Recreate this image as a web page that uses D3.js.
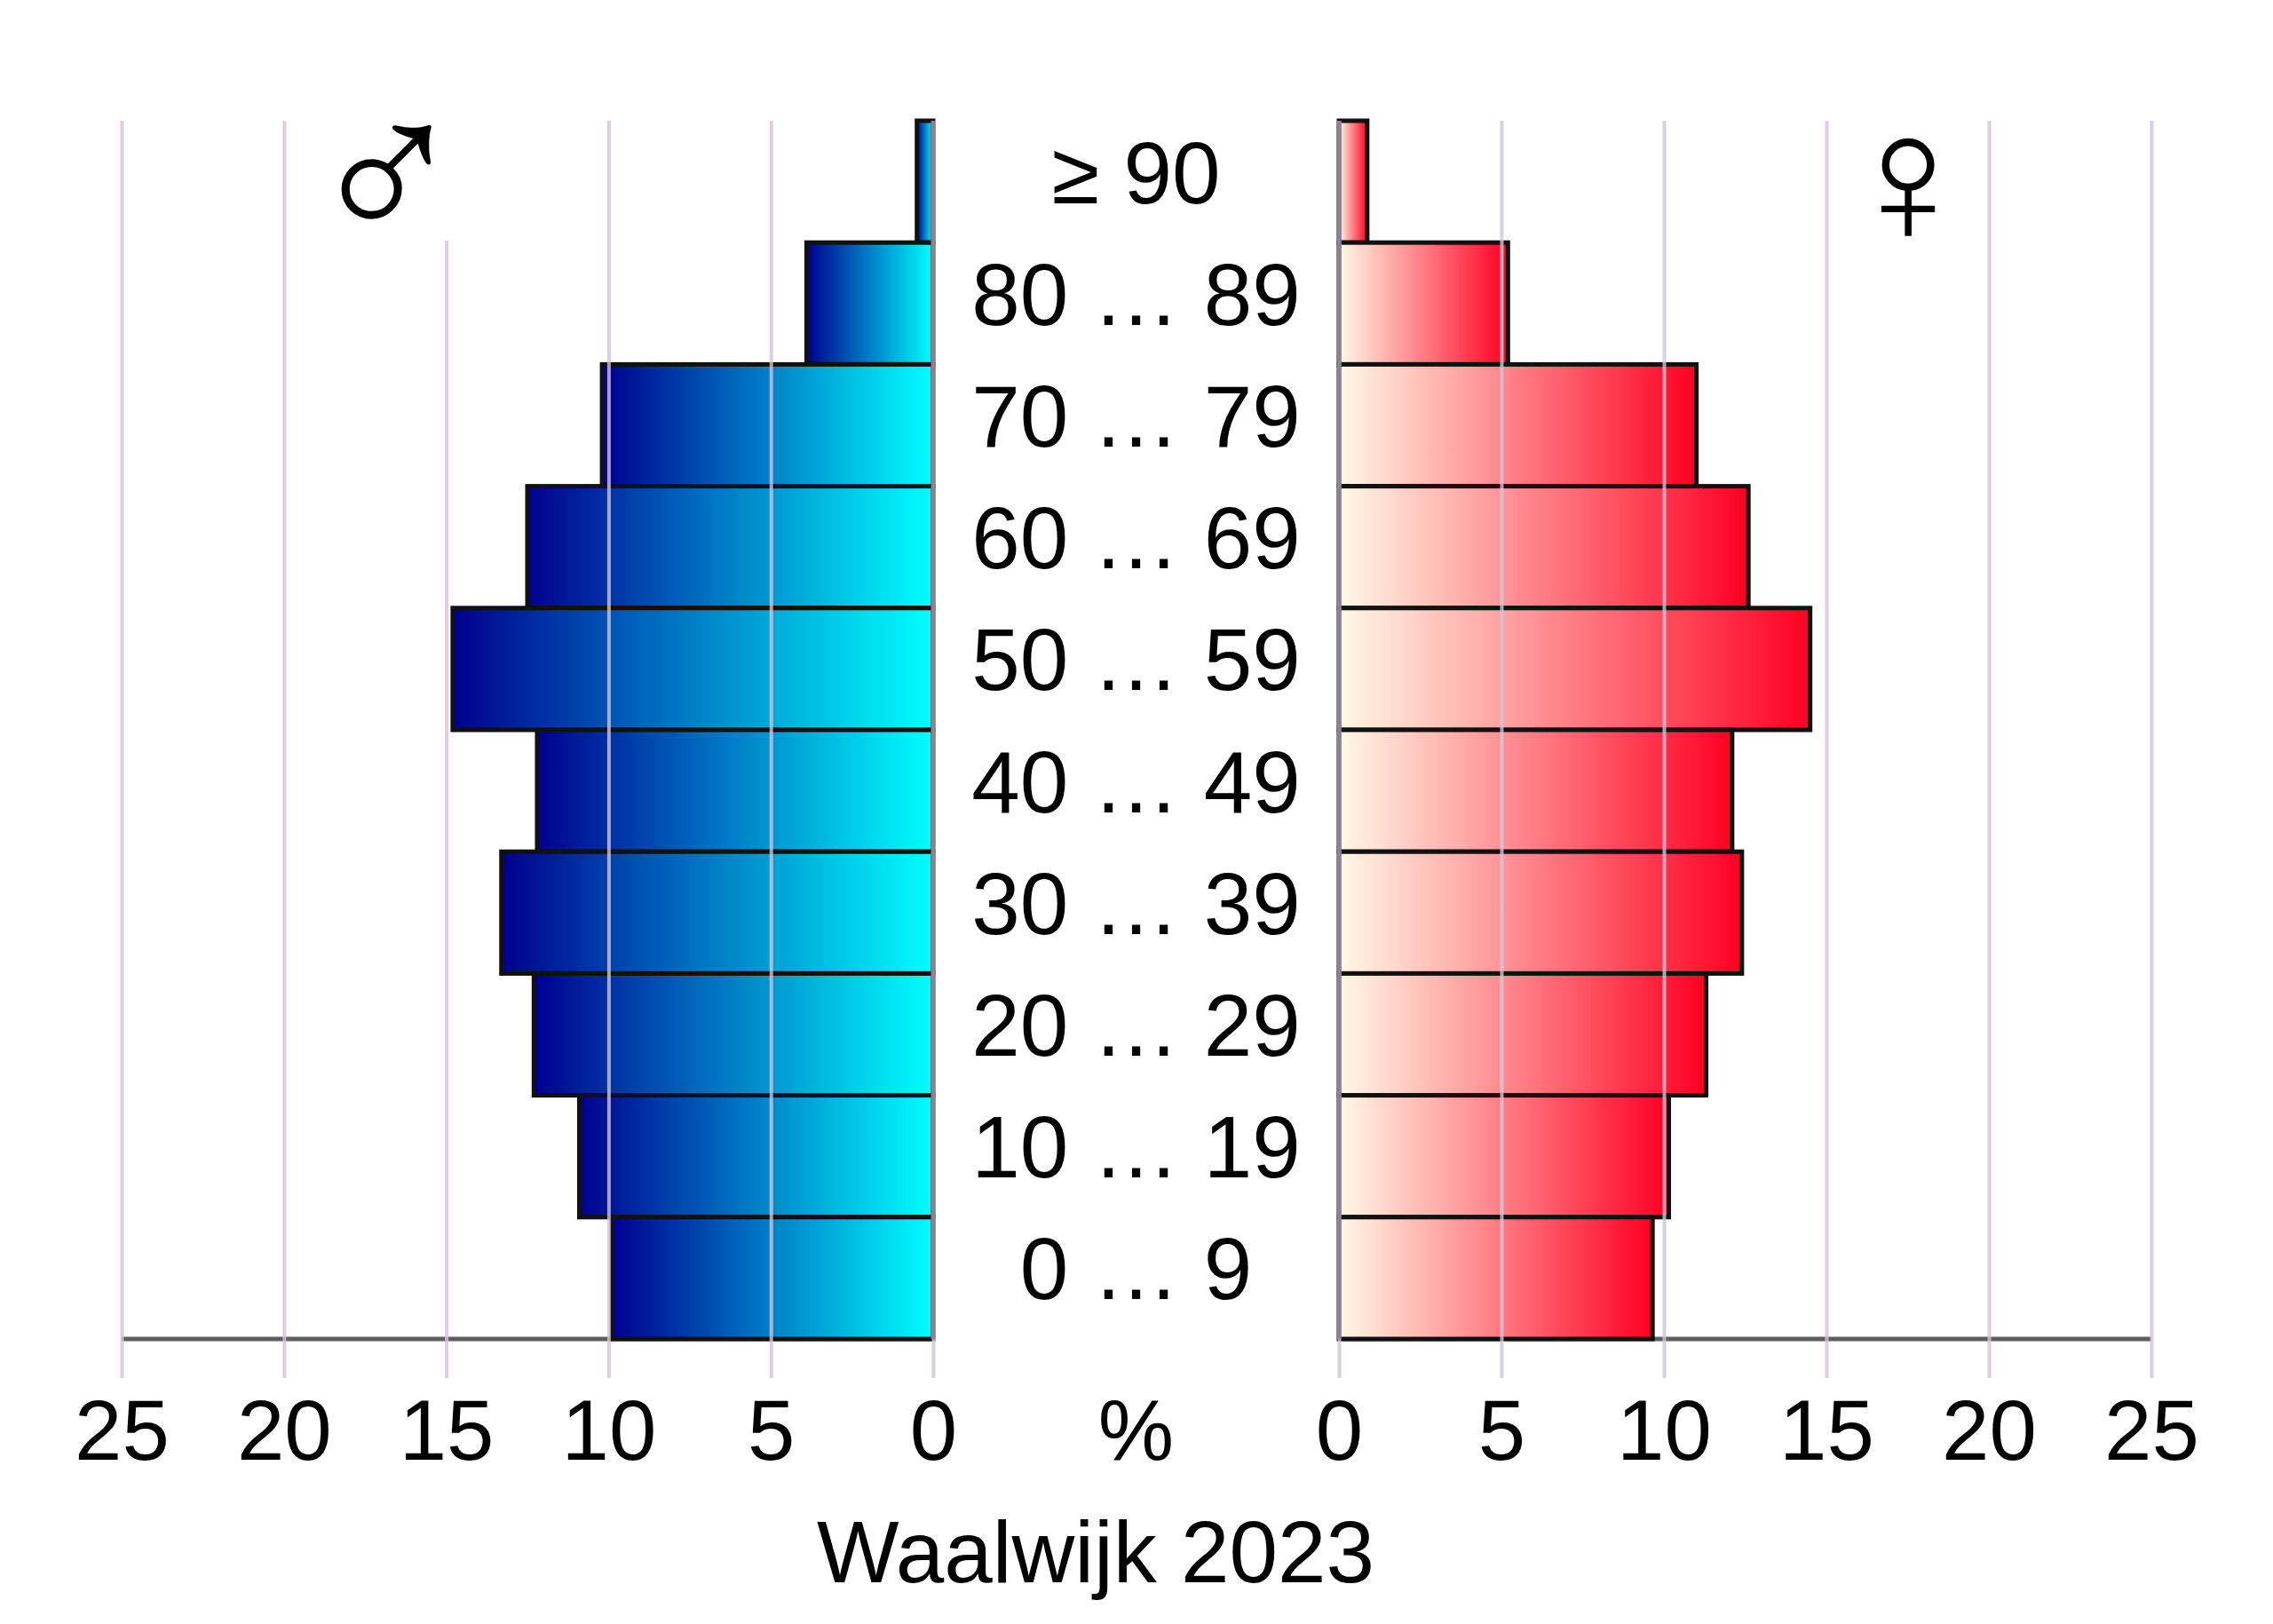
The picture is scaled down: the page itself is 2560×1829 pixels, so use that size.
<!DOCTYPE html>
<html lang="nl">
  <head>
    <meta charset="utf-8" />
    <title>Waalwijk 2023</title>
    <style>
      body {
        margin: 0;
        background: white;
      }
      svg text {
        font-family: "Liberation Sans", Arial, sans-serif;
        fill: black;
      }
    </style>
    <script src="https://cdn.jsdelivr.net/npm/d3@7"></script>
  </head>
  <body>
    <svg width="2560" height="1829"></svg>
    <script>
      // age groups, top to bottom
      var ageGroups = ["≥ 90", "80 … 89", "70 … 79", "60 … 69", "50 … 59",
        "40 … 49", "30 … 39", "20 … 29", "10 … 19", "0 … 9"];
      // percent of each sex, same order
      var maleValues = [0.5, 3.9, 10.2, 12.5, 14.8, 12.2, 13.3, 12.3, 10.9, 9.9];
      var femaleValues = [0.87, 5.2, 11.0, 12.6, 14.5, 12.1, 12.4, 11.3, 10.15, 9.65];
      var tickValues = [0, 5, 10, 15, 20, 25];
      var title = "Waalwijk 2023";

      var svg = d3.select("svg");
      var yTop = 136, yBottom = 1508, gridBottom = 1552;

      // left side runs right-to-left
      var xL = d3.scaleLinear().domain([0, 25]).range([1051, 137]);
      var xR = d3.scaleLinear().domain([0, 25]).range([1508, 2423]);
      var y = d3.scaleBand().domain(ageGroups).range([yTop, yBottom]).padding(0);

      // gradients, one per bar box
      var defs = svg.append("defs");
      var gM = defs.append("linearGradient").attr("id", "male");
      gM.append("stop").attr("offset", "0%").attr("stop-color", "#00008f");
      gM.append("stop").attr("offset", "100%").attr("stop-color", "#00ffff");
      var gF = defs.append("linearGradient").attr("id", "female");
      gF.append("stop").attr("offset", "0%").attr("stop-color", "#fff9e6");
      gF.append("stop").attr("offset", "100%").attr("stop-color", "#ff0022");

      // base line
      svg.append("line")
        .attr("x1", xL(25)).attr("x2", xL(0))
        .attr("y1", yBottom).attr("y2", yBottom)
        .attr("stroke", "#5e5e5e").attr("stroke-width", 5);
      svg.append("line")
        .attr("x1", xR(0)).attr("x2", xR(25))
        .attr("y1", yBottom).attr("y2", yBottom)
        .attr("stroke", "#5e5e5e").attr("stroke-width", 5);

      // bars
      svg.append("g").selectAll("rect")
        .data(maleValues)
        .join("rect")
        .attr("x", (d) => xL(d))
        .attr("y", (d, i) => y(ageGroups[i]))
        .attr("width", (d) => xL(0) - xL(d))
        .attr("height", y.bandwidth())
        .attr("fill", "url(#male)")
        .attr("stroke", "#111")
        .attr("stroke-width", 5);

      svg.append("g").selectAll("rect")
        .data(femaleValues)
        .join("rect")
        .attr("x", xR(0))
        .attr("y", (d, i) => y(ageGroups[i]))
        .attr("width", (d) => xR(d) - xR(0))
        .attr("height", y.bandwidth())
        .attr("fill", "url(#female)")
        .attr("stroke", "#111")
        .attr("stroke-width", 5);

      // gridlines + tick labels, on top of the bars
      [xL, xR].forEach((x) => {
        var ax = svg.append("g")
          .attr("transform", `translate(0,${gridBottom})`)
          .call(d3.axisBottom(x).tickValues(tickValues)
            .tickSize(-(gridBottom - yTop)).tickPadding(24));
        ax.select(".domain").remove();
        ax.selectAll(".tick line")
          .attr("stroke", "#d3c4d8")
          .attr("stroke-opacity", 0.8)
          .attr("stroke-width", 4);
        ax.selectAll(".tick text")
          .attr("font-size", 96)
          .attr("font-family", "Liberation Sans, Arial, sans-serif")
          .attr("fill", "black");
      });

      // zero lines
      [xL(0), xR(0)].forEach((x0) => {
        svg.append("line")
          .attr("x1", x0).attr("x2", x0)
          .attr("y1", yTop).attr("y2", yBottom)
          .attr("stroke", "#8a8490").attr("stroke-width", 5);
      });

      // age labels in the middle
      var midX = (xL(0) + xR(0)) / 2;
      svg.append("g").selectAll("text")
        .data(ageGroups)
        .join("text")
        .attr("x", midX)
        .attr("y", (d) => y(d) + y.bandwidth() / 2 + 24)
        .attr("text-anchor", "middle")
        .attr("font-size", 98)
        .text((d) => d);

      svg.append("text")
        .attr("x", midX)
        .attr("y", 1644)
        .attr("text-anchor", "middle")
        .attr("font-size", 96)
        .text("%");

      // sex symbols (white box hides part of a gridline, like the original)
      svg.append("rect")
        .attr("x", 380).attr("y", yTop - 2)
        .attr("width", 140).attr("height", y("80 … 89") - yTop)
        .attr("fill", "white");
      svg.append("text")
        .attr("x", 435).attr("y", 276)
        .attr("text-anchor", "middle")
        .attr("font-size", 240)
        .text("♂");
      svg.append("text")
        .attr("x", 2149).attr("y", 274)
        .attr("text-anchor", "middle")
        .attr("font-size", 210)
        .text("♀");

      svg.append("text")
        .attr("x", 1234)
        .attr("y", 1782)
        .attr("text-anchor", "middle")
        .attr("font-size", 98)
        .text(title);
    </script>
  </body>
</html>
